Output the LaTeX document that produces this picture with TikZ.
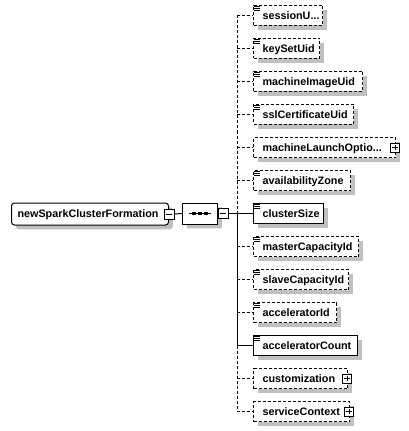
\documentclass[tikz,border=0pt]{standalone}
\usepackage{fontspec}
\setmainfont{Liberation Sans}
\usetikzlibrary{shapes.misc,shadows}
\definecolor{shadowc}{RGB}{192,192,192}
\begin{document}
\begin{tikzpicture}[x=0.75pt,y=-0.75pt,
  base/.style={line width=0.75pt, draw=black, fill=white,
    font=\fontsize{8.1}{9.6}\selectfont\bfseries,
    drop shadow={shadow xshift=3.2pt, shadow yshift=-3.2pt, fill=shadowc, opacity=1}},
  kid/.style={base, rectangle, anchor=west, inner xsep=6.75pt, inner ysep=0pt,
    minimum height=15pt, text width=#1, align=left, text height=6.6pt, text depth=0pt},
  opt/.style={dash pattern=on 2.25pt off 1.5pt},
  conn/.style={line width=0.75pt},
  sign/.style={draw, fill=white, solid, line width=0.75pt, rectangle, inner sep=0pt},
  minus/.style={sign, minimum size=7.5pt,
    path picture={\draw[line width=0.75pt] ([xshift=1.5pt]path picture bounding box.west) -- ([xshift=-1.5pt]path picture bounding box.east);}},
  plus/.style={sign, minimum size=6.75pt,
    path picture={\draw[line width=0.75pt] ([xshift=1.2pt]path picture bounding box.west) -- ([xshift=-1.2pt]path picture bounding box.east)
      ([yshift=-1.2pt]path picture bounding box.north) -- ([yshift=1.2pt]path picture bounding box.south);}},
  seqdot/.style={fill=black, rectangle, inner sep=0pt, minimum width=3pt, minimum height=2.25pt},
  iconline/.style={line width=0.75pt}
]
\useasboundingbox (0,0) rectangle (409,431);

% root element
\node[base, rectangle, rounded corners=2.25pt, anchor=west, inner xsep=4.5pt, inner ysep=0pt,
  text width=108.75pt, align=left, minimum height=16.5pt, text height=5.8pt, text depth=0pt]
  (root) at (11,214) {newSparkClusterFormation};
\node[minus] (m0) at (root.east) {};

% sequence compositor
\node[base, chamfered rectangle, chamfered rectangle angle=45, chamfered rectangle xsep=4.5pt,
  minimum width=26.25pt, minimum height=15.75pt, inner sep=0pt] (comp) at (200,213.5) {};
\draw[conn] ([xshift=-8.25pt]comp.center) -- ([xshift=8.25pt]comp.center);
\node[seqdot] (d1) at ([xshift=-4.2pt]comp.center) {};
\node[seqdot] (d2) at (comp.center) {};
\node[seqdot] (d3) at ([xshift=4.2pt]comp.center) {};
\node[minus] (m1) at ([xshift=3.75pt]comp.east) {};
\draw[conn] (m0.east) -- (comp.west);

\coordinate (trunk) at (237,213.5);
\draw[conn] (m1.east) -- (trunk);

% children
\node[kid=38.25pt, opt] (k1)  at (253, 15.5) {sessionU...};
\node[kid=36pt,    opt] (k2)  at (253, 48.5) {keySetUid};
\node[kid=68.25pt, opt] (k3)  at (253, 81.5) {machineImageUid};
\node[kid=61.5pt,  opt] (k4)  at (253,114.5) {sslCertificateUid};
\node[kid=93pt,    opt] (k5)  at (253,147.5) {machineLaunchOptio...};
\node[kid=59.25pt, opt] (k6)  at (253,180.5) {availabilityZone};
\node[kid=39pt]         (k7)  at (253,213.5) {clusterSize};
\node[kid=65.25pt, opt] (k8)  at (253,246.5) {masterCapacityId};
\node[kid=57.75pt, opt] (k9)  at (253,279.5) {slaveCapacityId};
\node[kid=48.75pt, opt] (k10) at (253,312.5) {acceleratorId};
\node[kid=64.5pt]       (k11) at (253,345.5) {acceleratorCount};
\node[kid=57pt,    opt] (k12) at (253,378.5) {customization};
\node[kid=58.5pt,  opt] (k13) at (253,411.5) {serviceContext};

% expand boxes
\node[plus] (p5)  at ([xshift=-0.75pt]k5.east) {};
\node[plus] (p12) at ([xshift=-0.75pt]k12.east) {};
\node[plus] (p13) at ([xshift=-0.75pt]k13.east) {};

% type icons
\foreach \n in {k1,k2,k3,k4,k6,k7,k8,k9,k10,k11} {
  \foreach \dy in {1.5,3.5,5.5}
    \draw[iconline] ([xshift=0.75pt,yshift=-\dy*0.75pt]\n.north west) -- ++(4.5pt,0pt);
}

% connectors
\foreach \n in {k1,k2,k3,k4,k5,k6,k8,k9,k10,k12,k13}
  \draw[conn, opt] (\n.west -| trunk) -- (\n.west);
\foreach \n in {k7,k11}
  \draw[conn] (\n.west -| trunk) -- (\n.west);
\draw[conn, opt] (k1.west -| trunk) -- (k7.west -| trunk);
\draw[conn] (k7.west -| trunk) -- (k11.west -| trunk);
\draw[conn, opt] (k11.west -| trunk) -- (k13.west -| trunk);
\end{tikzpicture}
\end{document}
